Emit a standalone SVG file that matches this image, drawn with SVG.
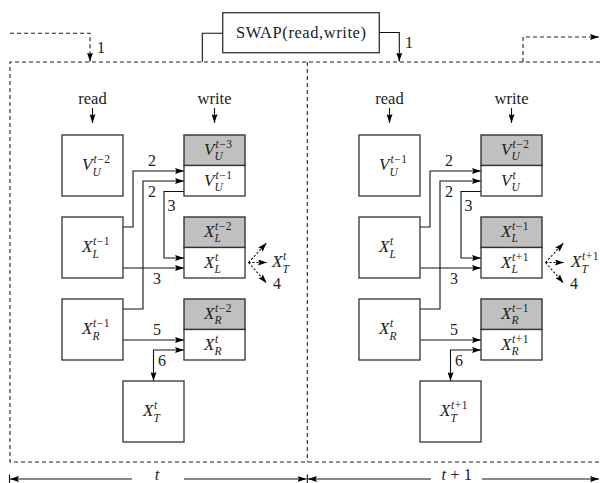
<svg xmlns="http://www.w3.org/2000/svg" width="600" height="483" viewBox="0 0 600 483">
<style>
.bx{fill:#fff;stroke:#333;stroke-width:1.3}
.gy{fill:#c0c0c0;stroke:#333;stroke-width:1.4}
.ln{fill:none;stroke:#111;stroke-width:1.1}
.ds{fill:none;stroke:#222;stroke-width:1.1;stroke-dasharray:4,3}
.dd{fill:none;stroke:#111;stroke-width:1.1;stroke-dasharray:2.2,1.8}
.m{font-family:"Liberation Serif","DejaVu Serif",serif;font-style:italic;font-size:17px;fill:#222}
.s{font-family:"Liberation Serif","DejaVu Serif",serif;font-size:11.5px;fill:#222}
.i{font-style:italic}
.n{font-family:"Liberation Serif","DejaVu Serif",serif;font-size:16px;text-anchor:middle;fill:#222}
.w{font-family:"Liberation Serif","DejaVu Serif",serif;font-size:16.5px;text-anchor:middle;fill:#222}
</style>
<defs>
<marker id="ah" viewBox="0 0 9 6" refX="9" refY="3" markerWidth="9" markerHeight="6" markerUnits="userSpaceOnUse" orient="auto-start-reverse">
<path d="M0,0 L9,3 L0,6 L1.5,3 z" fill="#000"/>
</marker>
</defs>

<g id="frame">
<path class="ds" d="M600,62 H10 V462 H600"/>
<path class="ds" d="M307.3,62 V462"/>
</g>

<g id="swap">
<rect class="bx" x="222.7" y="12.7" width="156.6" height="40"/>
<text class="w" x="301" y="38" textLength="130" lengthAdjust="spacing">SWAP(read,write)</text>
</g>

<g id="connectors">
<path class="ds" d="M10,33.3 H90 V61.5" marker-end="url(#ah)"/>
<path class="ln" d="M222.7,33.3 H202.3 V62"/>
<path class="ln" d="M379.3,32.5 H399.3 V61.5" marker-end="url(#ah)"/>
<path class="ds" d="M523,62 V37 H599" marker-end="url(#ah)"/>
<text class="n" x="101" y="53">1</text>
<text class="n" x="409" y="48">1</text>
<path class="ln" d="M92.5,108 V123" marker-end="url(#ah)"/>
<path class="ln" d="M214.5,108 V123" marker-end="url(#ah)"/>
<path class="ln" d="M389.5,108 V123" marker-end="url(#ah)"/>
<path class="ln" d="M511.5,108 V123" marker-end="url(#ah)"/>
<path class="ln" d="M123,227 H133 V171 H184" marker-end="url(#ah)"/>
<path class="ln" d="M123,309 H143 V181 H184" marker-end="url(#ah)"/>
<path class="ln" d="M184,191.5 H164 V258 H184" marker-end="url(#ah)"/>
<path class="ln" d="M123,268 H184" marker-end="url(#ah)"/>
<path class="ln" d="M123,340 H184" marker-end="url(#ah)"/>
<path class="ln" d="M184,350 H153.5 V381" marker-start="url(#ah)" marker-end="url(#ah)"/>
<path class="dd" d="M248.5,262.5 L266.5,243" marker-end="url(#ah)"/>
<path class="dd" d="M248.5,262.5 L267,262.5" marker-end="url(#ah)"/>
<path class="dd" d="M248.5,262.5 L266.5,283" marker-end="url(#ah)"/>
<text class="n" x="152" y="166">2</text>
<text class="n" x="152" y="197">2</text>
<text class="n" x="171.5" y="211">3</text>
<text class="n" x="157" y="284">3</text>
<text class="n" x="157" y="335">5</text>
<text class="n" x="162" y="366">6</text>
<text class="n" x="277" y="289">4</text>
<path class="ln" d="M420,227 H430 V171 H481" marker-end="url(#ah)"/>
<path class="ln" d="M420,309 H440 V181 H481" marker-end="url(#ah)"/>
<path class="ln" d="M481,191.5 H461 V258 H481" marker-end="url(#ah)"/>
<path class="ln" d="M420,268 H481" marker-end="url(#ah)"/>
<path class="ln" d="M420,340 H481" marker-end="url(#ah)"/>
<path class="ln" d="M481,350 H450.5 V381" marker-start="url(#ah)" marker-end="url(#ah)"/>
<path class="dd" d="M545.5,262.5 L563.5,243" marker-end="url(#ah)"/>
<path class="dd" d="M545.5,262.5 L564,262.5" marker-end="url(#ah)"/>
<path class="dd" d="M545.5,262.5 L563.5,283" marker-end="url(#ah)"/>
<text class="n" x="449" y="166">2</text>
<text class="n" x="449" y="197">2</text>
<text class="n" x="468.5" y="211">3</text>
<text class="n" x="454" y="284">3</text>
<text class="n" x="454" y="335">5</text>
<text class="n" x="459" y="366">6</text>
<text class="n" x="574" y="289">4</text>
<path class="ln" d="M9.5,474.5 V483.5 M307.3,474.5 V483.5"/>
<path class="ln" d="M10,479 H132" marker-start="url(#ah)"/>
<path class="ln" d="M184,479 H306.5" marker-end="url(#ah)"/>
<path class="ln" d="M308,479 H431" marker-start="url(#ah)"/>
<path class="ln" d="M482,479 H599" marker-end="url(#ah)"/>
</g>

<g id="labels">
<text class="w" x="92.5" y="104">read</text>
<text class="w" x="214.5" y="104">write</text>
<text class="w" x="389.5" y="104">read</text>
<text class="w" x="511.5" y="104">write</text>
<text class="w" x="157" y="479.5"><tspan class="i">t</tspan></text>
<text class="w" x="456.7" y="479.5"><tspan class="i">t</tspan> + 1</text>
<text class="m" x="272" y="267">X</text><text class="s i" x="283" y="260">t</text><text class="s i" x="282.5" y="272.5">T</text>
<text class="m" x="571" y="267">X</text><text class="s" x="582" y="260"><tspan class="i">t</tspan><tspan dx="0.6">+</tspan><tspan dx="0.4">1</tspan></text><text class="s i" x="581.5" y="272.5">T</text>
</g>

<g id="L_readV">
<rect class="bx" x="62" y="135" width="61" height="61"/>
<text class="m" x="82" y="170">V</text><text class="s" x="93.5" y="163"><tspan class="i">t</tspan><tspan dx="0.6">−</tspan><tspan dx="0.4">2</tspan></text><text class="s i" x="92.5" y="175.5">U</text>
</g>
<g id="L_readXL">
<rect class="bx" x="62" y="217" width="61" height="61"/>
<text class="m" x="82" y="252">X</text><text class="s" x="93" y="245"><tspan class="i">t</tspan><tspan dx="0.6">−</tspan><tspan dx="0.4">1</tspan></text><text class="s i" x="92.5" y="257.5">L</text>
</g>
<g id="L_readXR">
<rect class="bx" x="62" y="299" width="61" height="61"/>
<text class="m" x="82" y="334">X</text><text class="s" x="93" y="327"><tspan class="i">t</tspan><tspan dx="0.6">−</tspan><tspan dx="0.4">1</tspan></text><text class="s i" x="92.5" y="339.5">R</text>
</g>
<g id="L_writeV">
<rect class="gy" x="184" y="135" width="61" height="30.5"/>
<rect class="bx" x="184" y="165.5" width="61" height="30.5"/>
<text class="m" x="204" y="154.5">V</text><text class="s" x="215.5" y="147.5"><tspan class="i">t</tspan><tspan dx="0.6">−</tspan><tspan dx="0.4">3</tspan></text><text class="s i" x="214.5" y="160">U</text>
<text class="m" x="204" y="185.5">V</text><text class="s" x="215.5" y="178.5"><tspan class="i">t</tspan><tspan dx="0.6">−</tspan><tspan dx="0.4">1</tspan></text><text class="s i" x="214.5" y="191">U</text>
</g>
<g id="L_writeXL">
<rect class="gy" x="184" y="217" width="61" height="30.5"/>
<rect class="bx" x="184" y="247.5" width="61" height="30.5"/>
<text class="m" x="204" y="236.5">X</text><text class="s" x="215" y="229.5"><tspan class="i">t</tspan><tspan dx="0.6">−</tspan><tspan dx="0.4">2</tspan></text><text class="s i" x="214.5" y="242">L</text>
<text class="m" x="204" y="267.5">X</text><text class="s i" x="215" y="260.5">t</text><text class="s i" x="214.5" y="273">L</text>
</g>
<g id="L_writeXR">
<rect class="gy" x="184" y="299" width="61" height="30.5"/>
<rect class="bx" x="184" y="329.5" width="61" height="30.5"/>
<text class="m" x="204" y="318.5">X</text><text class="s" x="215" y="311.5"><tspan class="i">t</tspan><tspan dx="0.6">−</tspan><tspan dx="0.4">2</tspan></text><text class="s i" x="214.5" y="324">R</text>
<text class="m" x="204" y="349.5">X</text><text class="s i" x="215" y="342.5">t</text><text class="s i" x="214.5" y="355">R</text>
</g>
<g id="L_XT">
<rect class="bx" x="123" y="381" width="61" height="61"/>
<text class="m" x="143" y="416">X</text><text class="s i" x="154" y="409">t</text><text class="s i" x="153.5" y="421.5">T</text>
</g>

<g id="R_readV">
<rect class="bx" x="359" y="135" width="61" height="61"/>
<text class="m" x="379" y="170">V</text><text class="s" x="390.5" y="163"><tspan class="i">t</tspan><tspan dx="0.6">−</tspan><tspan dx="0.4">1</tspan></text><text class="s i" x="389.5" y="175.5">U</text>
</g>
<g id="R_readXL">
<rect class="bx" x="359" y="217" width="61" height="61"/>
<text class="m" x="379" y="252">X</text><text class="s i" x="390" y="245">t</text><text class="s i" x="389.5" y="257.5">L</text>
</g>
<g id="R_readXR">
<rect class="bx" x="359" y="299" width="61" height="61"/>
<text class="m" x="379" y="334">X</text><text class="s i" x="390" y="327">t</text><text class="s i" x="389.5" y="339.5">R</text>
</g>
<g id="R_writeV">
<rect class="gy" x="481" y="135" width="61" height="30.5"/>
<rect class="bx" x="481" y="165.5" width="61" height="30.5"/>
<text class="m" x="501" y="154.5">V</text><text class="s" x="512.5" y="147.5"><tspan class="i">t</tspan><tspan dx="0.6">−</tspan><tspan dx="0.4">2</tspan></text><text class="s i" x="511.5" y="160">U</text>
<text class="m" x="501" y="185.5">V</text><text class="s i" x="512.5" y="178.5">t</text><text class="s i" x="511.5" y="191">U</text>
</g>
<g id="R_writeXL">
<rect class="gy" x="481" y="217" width="61" height="30.5"/>
<rect class="bx" x="481" y="247.5" width="61" height="30.5"/>
<text class="m" x="501" y="236.5">X</text><text class="s" x="512" y="229.5"><tspan class="i">t</tspan><tspan dx="0.6">−</tspan><tspan dx="0.4">1</tspan></text><text class="s i" x="511.5" y="242">L</text>
<text class="m" x="501" y="267.5">X</text><text class="s" x="512" y="260.5"><tspan class="i">t</tspan><tspan dx="0.6">+</tspan><tspan dx="0.4">1</tspan></text><text class="s i" x="511.5" y="273">L</text>
</g>
<g id="R_writeXR">
<rect class="gy" x="481" y="299" width="61" height="30.5"/>
<rect class="bx" x="481" y="329.5" width="61" height="30.5"/>
<text class="m" x="501" y="318.5">X</text><text class="s" x="512" y="311.5"><tspan class="i">t</tspan><tspan dx="0.6">−</tspan><tspan dx="0.4">1</tspan></text><text class="s i" x="511.5" y="324">R</text>
<text class="m" x="501" y="349.5">X</text><text class="s" x="512" y="342.5"><tspan class="i">t</tspan><tspan dx="0.6">+</tspan><tspan dx="0.4">1</tspan></text><text class="s i" x="511.5" y="355">R</text>
</g>
<g id="R_XT">
<rect class="bx" x="420" y="381" width="61" height="61"/>
<text class="m" x="440" y="416">X</text><text class="s" x="451" y="409"><tspan class="i">t</tspan><tspan dx="0.6">+</tspan><tspan dx="0.4">1</tspan></text><text class="s i" x="450.5" y="421.5">T</text>
</g>
</svg>
